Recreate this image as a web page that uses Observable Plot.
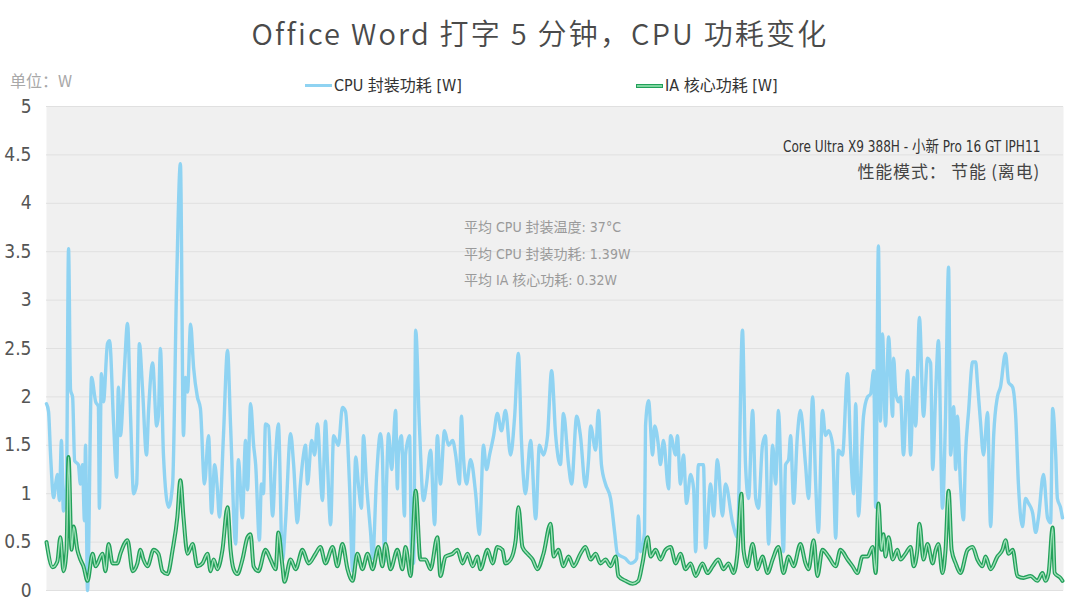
<!DOCTYPE html>
<html>
<head>
<meta charset="utf-8">
<script src="https://cdn.jsdelivr.net/npm/d3@7"></script>
<script src="https://cdn.jsdelivr.net/npm/@observablehq/plot@0.6"></script>
<style>
  html, body { margin: 0; padding: 0; background: #fff; }
  #wrap { position: relative; width: 1080px; height: 612px; overflow: hidden;
          font-family: "DejaVu Sans Condensed", "Noto Sans CJK SC", sans-serif; font-stretch: condensed; }
  #title { position: absolute; left: 0; width: 1080px; top: 11px; text-align: center;
           font-family: "Noto Sans CJK SC", sans-serif; font-size: 29px; color: #4a4a4a; letter-spacing: 2.2px; font-weight: 350; }
  #unit { position: absolute; left: 10px; top: 68px; font-family: "Noto Sans CJK SC", sans-serif;
          font-size: 16px; color: #a8a8a8; }
  .leg { position: absolute; top: 72px; font-size: 16px; color: #333; white-space: nowrap; }
  .sw { display: inline-block; width: 27px; height: 3px; vertical-align: middle; margin-right: 2px; position: relative; top: -1px; }
  #chart { position: absolute; left: 0; top: 0; }
  .note { position: absolute; white-space: nowrap; }
</style>
</head>
<body>
<div id="wrap">
  <div id="chart"></div>
  <div id="title"></div>
  <div id="unit"></div>
  <div id="legend"></div>
  <div id="notes"></div>
</div>
<script>
// ---- data ----
const chartTitle = "Office Word 打字 5 分钟，CPU 功耗变化";
const unitLabel = "单位：W";
const seriesNames = ["CPU 封装功耗 [W]", "IA 核心功耗 [W]"];
const deviceLabel = "Core Ultra X9 388H - 小新 Pro 16 GT IPH11";
const modeLabel = "性能模式： 节能 (离电)";
const statLines = ["平均 CPU 封装温度: 37°C", "平均 CPU 封装功耗: 1.39W", "平均 IA 核心功耗: 0.32W"];
const yTicks = [0, 0.5, 1, 1.5, 2, 2.5, 3, 3.5, 4, 4.5, 5];

// time in seconds
const cpuTime = [0.0,0.6,1.2,2.1,2.7,3.2,3.8,4.4,5.0,5.9,6.5,7.1,7.7,8.3,9.4,10.0,10.6,11.2,11.5,12.1,13.3,14.5,15.3,15.6,16.2,16.8,18.0,18.6,19.8,20.7,21.2,21.8,23.0,23.9,24.8,25.7,26.6,27.4,28.3,29.5,30.1,31.3,32.5,33.0,33.6,34.5,36.0,37.2,38.4,39.5,40.4,41.0,41.6,42.5,43.4,44.5,45.4,46.6,47.8,48.7,49.6,50.4,51.0,52.2,53.4,54.3,55.8,56.6,57.8,58.7,59.3,60.2,61.1,61.7,62.8,63.4,64.0,64.6,65.5,66.7,67.6,68.4,69.6,70.5,72.0,72.9,74.0,74.9,75.8,76.4,77.0,78.2,79.1,79.9,81.4,82.3,82.9,83.8,84.7,86.1,87.3,88.2,89.4,90.3,91.2,92.0,92.9,93.5,94.4,95.6,96.2,97.4,98.5,99.1,99.7,100.3,100.9,101.8,103.0,103.5,103.8,104.7,105.6,105.9,107.1,107.7,108.0,108.3,108.9,110.0,111.2,112.1,113.3,114.5,115.3,116.2,117.4,118.6,119.8,120.7,121.8,122.4,123.0,123.9,125.1,126.6,127.7,128.9,129.8,130.7,131.9,133.0,134.2,135.4,136.9,138.1,139.2,140.1,141.3,142.8,144.3,145.4,146.6,147.8,149.0,150.2,151.6,152.5,154.0,154.9,156.4,157.5,159.0,159.9,160.5,162.0,162.8,163.7,164.9,166.4,167.6,168.4,170.8,172.3,173.5,174.1,174.6,175.2,176.4,176.7,177.6,178.8,179.4,180.5,181.1,182.0,183.5,184.1,185.6,186.1,187.0,187.9,188.8,190.0,190.9,191.5,192.3,193.8,194.4,195.9,196.8,197.9,199.4,200.3,202.4,203.8,205.3,206.2,207.1,208.3,209.2,210.0,211.2,212.1,213.0,214.2,215.1,215.9,217.4,218.0,218.9,219.5,220.4,221.5,222.4,223.9,224.8,226.0,226.9,227.7,228.9,229.8,230.7,231.9,232.8,233.6,234.8,236.3,237.2,238.1,238.7,239.5,241.0,242.2,243.1,244.0,244.6,245.4,246.0,246.6,247.5,248.4,249.6,249.9,250.5,251.3,251.9,252.8,254.0,254.9,255.8,256.4,257.5,258.7,259.9,260.8,261.4,262.3,263.1,264.3,265.2,266.1,266.7,267.6,268.2,268.7,269.6,270.5,271.1,272.0,273.2,274.1,274.6,275.5,276.4,277.6,278.5,279.4,280.5,281.4,282.9,283.8,285.0,285.9,286.7,287.9,288.8,289.7,290.9,291.8,292.6,294.1,295.3,296.2,296.8,297.7,298.2,299.1,299.7];
const cpuPower = [1.93,1.85,1.4,0.96,1.1,1.2,0.93,1.55,0.82,1.1,3.53,2.07,2.0,1.34,1.3,1.1,1.3,0.72,1.5,0.0,2.2,1.95,1.9,0.85,2.24,1.95,2.55,2.58,1.72,1.17,2.1,1.6,2.3,2.76,1.8,1.0,1.1,2.55,2.1,1.4,1.85,2.35,1.7,1.8,2.5,1.4,0.86,1.1,3.2,4.41,1.6,2.2,2.05,2.75,2.3,2.0,1.88,1.1,1.6,0.8,1.3,1.05,0.76,1.6,2.48,1.7,0.48,1.35,0.75,1.55,1.04,1.93,1.5,1.3,0.52,1.1,1.0,1.72,1.7,0.77,1.4,1.72,0.3,0.7,1.62,1.3,0.7,1.1,1.4,1.5,1.1,1.55,1.4,1.72,0.93,1.75,1.3,0.68,1.6,1.5,1.89,1.85,1.08,0.2,1.38,1.1,0.85,1.6,1.1,0.6,0.33,1.2,1.62,1.38,0.3,1.1,1.62,1.25,1.86,1.05,1.4,1.6,0.77,1.4,1.6,0.4,0.95,0.28,2.69,1.7,0.93,1.1,1.45,0.68,1.6,1.1,1.65,1.5,1.55,1.4,1.1,1.8,1.38,1.1,1.35,1.0,0.58,1.5,1.25,1.4,1.6,1.83,1.65,1.86,1.4,1.8,2.45,1.55,1.0,1.55,0.74,1.5,1.4,1.6,2.27,1.6,1.3,1.83,1.3,1.1,1.8,1.6,1.07,1.35,1.7,1.45,1.86,1.3,1.1,0.95,0.6,0.38,0.33,0.28,0.3,0.33,0.77,0.4,0.6,1.7,1.96,1.4,1.7,1.5,1.3,1.55,1.05,1.6,1.4,1.6,1.1,1.4,0.9,1.2,1.05,0.4,1.3,1.3,0.44,1.1,0.77,1.35,0.77,1.1,0.7,0.55,2.69,1.3,0.95,1.86,0.95,0.85,1.5,1.6,0.48,1.5,1.1,1.86,0.4,1.3,1.35,1.6,0.9,1.6,1.86,1.3,0.95,2.0,1.1,0.6,1.86,1.6,1.65,1.5,0.54,1.45,1.4,2.24,1.45,1.0,1.93,0.77,1.8,2.0,2.03,2.27,0.86,3.56,1.75,2.65,1.7,2.62,1.8,2.4,2.05,1.95,2.0,1.4,2.27,1.4,2.2,1.7,2.82,1.8,2.4,2.35,1.25,2.05,2.58,0.85,1.8,3.34,1.4,1.9,1.25,1.8,1.1,0.73,1.4,1.85,2.36,2.36,2.15,1.75,1.4,1.84,0.66,1.6,2.0,2.1,2.45,2.15,2.1,1.8,1.1,0.66,0.95,0.9,0.8,0.6,0.75,1.2,0.75,0.7,1.88,1.4,0.95,0.86,0.75];

const iaTime = [0.0,1.8,3.2,4.1,5.0,5.9,6.5,7.4,8.0,9.1,10.0,10.9,12.1,13.6,14.5,16.5,17.4,18.3,19.5,20.9,21.8,23.9,25.4,26.8,27.7,28.6,29.8,31.6,33.0,34.2,35.7,37.2,38.6,39.5,40.4,41.6,43.1,44.5,46.0,47.5,48.4,49.3,50.4,51.9,53.4,54.3,55.2,56.3,57.8,59.3,60.2,61.1,62.5,64.6,66.1,67.6,68.4,69.6,70.2,72.0,73.5,75.5,77.3,79.4,80.8,82.3,84.4,85.8,87.3,88.8,90.3,91.7,93.2,94.7,96.2,97.9,99.1,100.0,101.5,103.5,105.0,105.9,107.4,108.9,110.3,111.8,113.3,115.3,116.2,117.7,119.8,121.2,122.7,124.2,125.7,127.1,128.0,130.1,131.6,133.0,134.5,135.4,136.9,138.4,139.2,140.4,141.9,143.4,144.8,146.6,148.7,149.6,151.0,152.5,154.0,155.5,157.5,159.0,160.5,162.0,163.4,164.9,166.4,167.9,168.7,170.8,172.9,174.6,175.8,177.3,178.2,179.7,181.1,182.6,184.1,185.6,187.0,188.5,190.0,191.5,193.5,195.0,196.5,198.2,199.7,201.2,202.7,203.8,205.0,205.6,206.8,208.3,209.7,211.2,212.7,214.2,215.9,217.4,218.9,220.4,222.4,223.9,224.8,226.3,227.4,228.9,230.7,232.8,234.2,236.3,237.8,239.2,240.7,242.2,243.7,244.6,245.4,246.3,246.9,247.5,248.4,249.6,251.0,251.9,253.4,254.9,255.8,256.9,257.5,258.7,259.9,261.4,262.3,263.1,264.3,265.2,266.1,267.0,268.2,269.6,271.7,273.2,274.6,276.1,277.0,278.5,280.5,282.0,282.9,283.8,285.0,286.4,288.2,290.3,292.3,293.8,294.7,295.6,296.8,297.4,299.1,299.7];
const iaPower = [0.5,0.24,0.3,0.55,0.2,0.42,1.38,0.42,0.66,0.42,0.32,0.25,0.1,0.38,0.25,0.38,0.2,0.48,0.28,0.28,0.38,0.52,0.2,0.28,0.42,0.32,0.25,0.42,0.38,0.2,0.17,0.42,0.76,1.14,0.76,0.38,0.48,0.25,0.28,0.38,0.2,0.32,0.22,0.42,0.86,0.42,0.22,0.17,0.32,0.55,0.58,0.25,0.2,0.42,0.32,0.22,0.6,0.25,0.09,0.32,0.22,0.42,0.28,0.38,0.45,0.28,0.45,0.25,0.48,0.22,0.1,0.38,0.22,0.38,0.22,0.45,0.25,0.48,0.22,0.42,0.22,0.45,0.15,1.03,0.32,0.32,0.22,0.55,0.15,0.35,0.38,0.42,0.28,0.38,0.25,0.35,0.22,0.42,0.28,0.45,0.42,0.28,0.32,0.52,0.86,0.45,0.38,0.32,0.22,0.38,0.69,0.35,0.42,0.25,0.35,0.25,0.38,0.45,0.32,0.38,0.28,0.32,0.25,0.35,0.15,0.1,0.07,0.1,0.28,0.55,0.35,0.42,0.32,0.42,0.45,0.28,0.38,0.22,0.28,0.15,0.28,0.18,0.25,0.32,0.22,0.28,0.18,0.38,1.0,0.42,0.25,0.48,0.22,0.35,0.18,0.32,0.45,0.18,0.35,0.25,0.48,0.28,0.22,0.52,0.15,0.42,0.35,0.25,0.42,0.32,0.25,0.18,0.35,0.35,0.45,0.18,0.9,0.42,0.58,0.35,0.55,0.32,0.42,0.32,0.38,0.45,0.25,0.42,0.69,0.32,0.48,0.28,0.42,0.48,0.18,0.42,1.03,0.42,0.28,0.18,0.42,0.45,0.32,0.25,0.35,0.22,0.35,0.42,0.52,0.38,0.42,0.15,0.13,0.15,0.1,0.18,0.1,0.18,0.65,0.18,0.13,0.1];

const colors = ["#8fd3f2", "#22a05a"];

// ---- build tables ----
const cpuData = cpuTime.map((t, i) => ({t, v: cpuPower[i]}));
const iaData = iaTime.map((t, i) => ({t, v: iaPower[i]}));

const chart = Plot.plot({
  width: 1080,
  height: 612,
  marginLeft: 46,
  marginRight: 17,
  marginTop: 106,
  marginBottom: 22,
  style: {background: "transparent", fontFamily: "'DejaVu Sans Condensed', 'Noto Sans CJK SC', sans-serif"},
  x: {domain: [0, 300], axis: null},
  y: {domain: [0, 5], ticks: yTicks, tickFormat: d => String(d), label: null, tickSize: 0, tickPadding: 15},
  marks: [
    Plot.frame({fill: "#f0f0f0", stroke: null}),
    Plot.gridY(yTicks, {stroke: "#e0e0e0", strokeOpacity: 1, strokeWidth: 1}),
    Plot.axisY({ticks: yTicks, tickFormat: d => String(d), tickSize: 0, tickPadding: 15, label: null, fontSize: 19, fill: "#555"}),
    Plot.line(cpuData, {x: "t", y: "v", stroke: colors[0], strokeWidth: 3.4, curve: "monotone-x"}),
    Plot.line(iaData, {x: "t", y: "v", stroke: colors[1], strokeWidth: 4, curve: "monotone-x"}),
    Plot.line(iaData, {x: "t", y: "v", stroke: "#9fe0b8", strokeWidth: 1.4, curve: "monotone-x"})
  ]
});
document.getElementById("chart").appendChild(chart);

// ---- texts ----
document.getElementById("title").textContent = chartTitle;
document.getElementById("unit").textContent = unitLabel;

const legend = document.getElementById("legend");
const legPos = [305, 636];
seriesNames.forEach((name, i) => {
  const d = document.createElement("div");
  d.className = "leg";
  d.style.left = legPos[i] + "px";
  const sw = document.createElement("span");
  sw.className = "sw";
  sw.style.background = colors[0];
  if (i === 1) { sw.style.height = "4px"; sw.style.boxShadow = "inset 0 0 0 1px " + colors[1]; sw.style.background = "#7fd6a0"; }
  d.appendChild(sw);
  d.appendChild(document.createTextNode(name));
  legend.appendChild(d);
});

const notes = document.getElementById("notes");
function addNote(text, style) {
  const d = document.createElement("div");
  d.className = "note";
  d.textContent = text;
  Object.assign(d.style, style);
  notes.appendChild(d);
}
addNote(deviceLabel, {right: "40px", top: "133px", fontSize: "16px", color: "#333", transform: "scaleX(0.84)", transformOrigin: "right center"});
addNote(modeLabel, {right: "40px", top: "158px", color: "#444", fontFamily: "'Noto Sans CJK SC', sans-serif", fontSize: "17px", letterSpacing: "0.8px"});
statLines.forEach((s, i) => addNote(s, {left: "464px", top: (216 + i * 26.5) + "px", fontSize: "14px", color: "#9a9a9a"}));
</script>
</body>
</html>
